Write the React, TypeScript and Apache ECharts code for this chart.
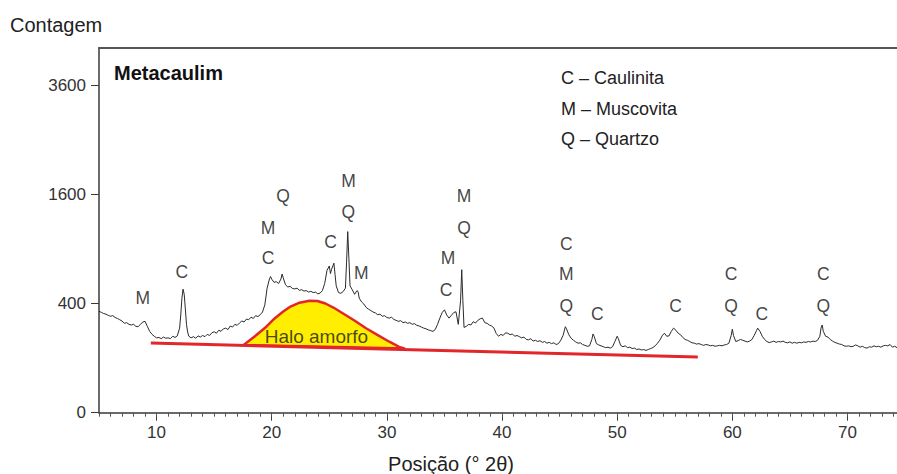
import React, { useEffect, useRef } from "react";
import * as echarts from "echarts";

// ---- Data ----
const xTickLabels = [10, 20, 30, 40, 50, 60, 70];
const yTickLabels = [0, 400, 1600, 3600];
const xMin = 5;
const xMax = 74.3;
const yMaxCount = 4462; // top frame of the plot (sqrt scale)

// XRD pattern: [angle 2θ, counts]
const xrdPattern: [number, number][] = [
  [5.0, 345], [5.2, 338], [5.4, 330], [5.6, 326], [5.8, 318], [6.0, 312], [6.2, 316], [6.4, 304],
  [6.6, 298], [6.8, 290], [7.0, 282], [7.2, 268], [7.4, 272], [7.6, 262], [7.8, 258], [8.0, 262],
  [8.2, 250], [8.4, 248], [8.6, 262], [8.8, 276], [9.0, 280], [9.2, 250], [9.4, 222], [9.6, 206],
  [9.8, 196], [10.0, 188], [10.2, 190], [10.4, 184], [10.6, 192], [10.8, 186], [11.0, 188], [11.2, 184],
  [11.4, 196], [11.6, 190], [11.8, 198], [12.0, 240], [12.1, 320], [12.2, 440], [12.3, 512], [12.4, 470],
  [12.5, 360], [12.6, 260], [12.7, 218], [12.8, 196], [13.0, 188], [13.2, 194], [13.4, 186], [13.6, 198],
  [13.8, 192], [14.0, 200], [14.2, 194], [14.4, 206], [14.6, 200], [14.8, 214], [15.0, 220], [15.2, 212],
  [15.4, 228], [15.6, 222], [15.8, 236], [16.0, 240], [16.2, 232], [16.4, 252], [16.6, 246], [16.8, 262],
  [17.0, 256], [17.2, 270], [17.4, 282], [17.6, 276], [17.8, 294], [18.0, 290], [18.2, 306], [18.4, 298],
  [18.6, 316], [18.8, 310], [19.0, 322], [19.2, 340], [19.4, 390], [19.6, 520], [19.8, 600], [19.9, 622],
  [20.0, 598], [20.2, 570], [20.4, 576], [20.6, 560], [20.8, 600], [20.9, 645], [21.0, 610], [21.2, 548],
  [21.4, 530], [21.6, 536], [21.8, 518], [22.0, 514], [22.2, 520], [22.4, 502], [22.6, 508], [22.8, 496],
  [23.0, 500], [23.2, 488], [23.4, 494], [23.6, 484], [23.8, 488], [24.0, 474], [24.2, 480], [24.4, 500],
  [24.6, 560], [24.8, 680], [25.0, 722], [25.1, 650], [25.2, 690], [25.4, 750], [25.5, 640], [25.6, 540],
  [25.8, 484], [26.0, 478], [26.2, 492], [26.4, 520], [26.5, 760], [26.6, 1100], [26.7, 800], [26.8, 540],
  [27.0, 506], [27.2, 470], [27.4, 500], [27.5, 492], [27.6, 440], [27.8, 412], [28.0, 396], [28.2, 372],
  [28.4, 360], [28.6, 350], [28.8, 340], [29.0, 334], [29.2, 322], [29.4, 326], [29.6, 312], [29.8, 316],
  [30.0, 304], [30.2, 300], [30.4, 306], [30.6, 292], [30.8, 286], [31.0, 280], [31.2, 284], [31.4, 272],
  [31.6, 276], [31.8, 268], [32.0, 272], [32.2, 262], [32.4, 266], [32.6, 256], [32.8, 252], [33.0, 246],
  [33.2, 240], [33.4, 236], [33.6, 230], [33.8, 226], [34.0, 222], [34.2, 232], [34.4, 262], [34.6, 300],
  [34.8, 336], [35.0, 355], [35.2, 320], [35.4, 300], [35.6, 318], [35.8, 336], [36.0, 342], [36.2, 262],
  [36.4, 420], [36.5, 686], [36.6, 420], [36.7, 244], [36.9, 250], [37.1, 262], [37.3, 258], [37.5, 278],
  [37.7, 270], [37.9, 286], [38.1, 296], [38.3, 300], [38.5, 272], [38.7, 268], [38.9, 258], [39.1, 252],
  [39.3, 240], [39.5, 210], [39.7, 196], [39.9, 206], [40.1, 200], [40.3, 214], [40.5, 212], [40.7, 204],
  [40.9, 208], [41.1, 196], [41.3, 200], [41.5, 194], [41.7, 188], [41.9, 192], [42.1, 180], [42.3, 178],
  [42.5, 184], [42.7, 172], [42.9, 176], [43.1, 170], [43.3, 174], [43.5, 166], [43.7, 170], [43.9, 162],
  [44.1, 166], [44.3, 160], [44.5, 164], [44.7, 156], [44.9, 160], [45.1, 176], [45.3, 200], [45.5, 248],
  [45.6, 236], [45.8, 204], [46.0, 186], [46.2, 176], [46.4, 168], [46.6, 162], [46.8, 164], [47.0, 156],
  [47.2, 152], [47.4, 148], [47.6, 150], [47.8, 180], [47.9, 208], [48.0, 196], [48.2, 160], [48.4, 154],
  [48.6, 150], [48.8, 146], [49.0, 142], [49.2, 144], [49.4, 140], [49.6, 146], [49.8, 170], [50.0, 196],
  [50.1, 184], [50.3, 152], [50.5, 146], [50.7, 150], [50.9, 142], [51.1, 144], [51.3, 138], [51.5, 140],
  [51.7, 134], [51.9, 136], [52.1, 132], [52.3, 134], [52.5, 130], [52.7, 134], [52.9, 138], [53.1, 142],
  [53.3, 150], [53.5, 162], [53.7, 176], [53.9, 198], [54.1, 212], [54.3, 196], [54.5, 198], [54.7, 222],
  [54.9, 240], [55.1, 228], [55.3, 212], [55.5, 204], [55.7, 190], [55.9, 180], [56.1, 176], [56.3, 170],
  [56.5, 164], [56.7, 162], [56.9, 158], [57.1, 160], [57.3, 156], [57.5, 152], [57.7, 156], [57.9, 154],
  [58.1, 150], [58.3, 152], [58.5, 148], [58.7, 150], [58.9, 152], [59.1, 150], [59.3, 154], [59.5, 156],
  [59.7, 162], [59.9, 200], [60.0, 234], [60.1, 200], [60.3, 170], [60.5, 174], [60.7, 180], [60.9, 176],
  [61.1, 172], [61.3, 168], [61.5, 172], [61.7, 180], [61.9, 200], [62.1, 226], [62.2, 240], [62.4, 222],
  [62.6, 196], [62.8, 180], [63.0, 170], [63.2, 165], [63.4, 168], [63.6, 172], [63.8, 166], [64.0, 170],
  [64.2, 168], [64.4, 172], [64.6, 166], [64.8, 164], [65.0, 168], [65.2, 162], [65.4, 166], [65.6, 162],
  [65.8, 166], [66.0, 164], [66.2, 168], [66.4, 166], [66.6, 170], [66.8, 168], [67.0, 172], [67.2, 170],
  [67.4, 176], [67.6, 196], [67.7, 240], [67.8, 258], [67.9, 222], [68.1, 196], [68.3, 192], [68.5, 180],
  [68.7, 172], [68.9, 166], [69.1, 162], [69.3, 158], [69.5, 156], [69.7, 150], [69.9, 148], [70.1, 150],
  [70.3, 146], [70.5, 148], [70.7, 154], [70.9, 150], [71.1, 144], [71.3, 148], [71.5, 142], [71.7, 140],
  [71.9, 146], [72.1, 144], [72.3, 150], [72.5, 146], [72.7, 148], [72.9, 144], [73.1, 150], [73.3, 152],
  [73.5, 150], [73.7, 156], [73.9, 144], [74.1, 148], [74.3, 142],
];

// Amorphous halo outline
const haloAngles = [17.56, 18.51, 19.53, 20.25, 20.97, 21.63, 22.41, 23.28, 23.97, 24.66, 25.36, 26.16, 27.18, 28.19, 29.17, 30.21, 31.07, 31.51];
const haloCounts = [154, 195, 248, 298, 342, 378, 406, 421, 419, 400, 371, 332, 285, 239, 203, 169, 145, 138];

// Red background line
const baselineAngles = [9.5, 57.0];
const baselineCounts = [163, 104];

// Phase labels above peaks
const phaseLetters = ["M", "C", "Q", "M", "C", "C", "M", "Q", "M", "M", "C", "M", "Q", "C", "M", "Q", "C", "C", "C", "Q", "C", "C", "Q"];
const phaseAngles = [8.81, 12.19, 20.98, 19.68, 19.68, 25.1, 26.66, 26.66, 27.78, 35.32, 35.15, 36.71, 36.71, 45.58, 45.58, 45.58, 48.27, 55.07, 59.88, 59.88, 62.56, 67.89, 67.89];
const phaseCounts = [441, 664, 1575, 1144, 803, 977, 1801, 1351, 655, 803, 505, 1575, 1144, 960, 650, 385, 330, 382, 650, 385, 330, 650, 385];

const haloLabel = "Halo amorfo";
const haloLabelAngle = 23.88;
const haloLabelCount = 196;

const legendLines = ["C – Caulinita", "M – Muscovita", "Q – Quartzo"];
const sampleTitle = "Metacaulim";
const yTitle = "Contagem";
const xTitle = "Posição (° 2θ)";

const FONT = "'Liberation Sans', Arial, sans-serif";
const sq = (v: number) => Math.sqrt(v);

export default function App() {
  const ref = useRef<HTMLDivElement>(null);

  useEffect(() => {
    if (!ref.current) return;
    const chart = echarts.init(ref.current, undefined, { renderer: "svg" });

    const minorTicks: number[] = [];
    for (let v = Math.ceil(xMin); v <= Math.floor(xMax); v++) minorTicks.push(v);

    const haloPts = haloAngles.map((a, i) => [a, sq(haloCounts[i])]);

    const option: any = {
      animation: false,
      backgroundColor: "#ffffff",
      textStyle: { fontFamily: FONT },
      grid: { left: 99, top: 48, width: 800, height: 364.7, containLabel: false },
      xAxis: [
        {
          type: "value",
          min: xMin,
          max: xMax,
          position: "bottom",
          axisLine: { show: true, lineStyle: { color: "#3a3a3a", width: 1.5 } },
          axisTick: { show: true, customValues: xTickLabels, length: 8, lineStyle: { color: "#3a3a3a" } },
          axisLabel: { show: true, customValues: xTickLabels, fontSize: 17, color: "#333", margin: 11, fontFamily: FONT },
          splitLine: { show: false },
        },
        {
          type: "value",
          min: xMin,
          max: xMax,
          position: "bottom",
          axisLine: { show: false },
          axisTick: { show: true, customValues: minorTicks, length: 4, lineStyle: { color: "#555" } },
          axisLabel: { show: false },
          splitLine: { show: false },
        },
        {
          type: "value",
          min: xMin,
          max: xMax,
          position: "top",
          axisLine: { show: true, lineStyle: { color: "#555", width: 2 } },
          axisTick: { show: false },
          axisLabel: { show: false },
          splitLine: { show: false },
        },
      ],
      yAxis: {
        type: "value",
        min: 0,
        max: sq(yMaxCount),
        axisLine: { show: true, lineStyle: { color: "#3a3a3a", width: 1.5 } },
        axisTick: { show: true, customValues: yTickLabels.map(sq), length: 8, lineStyle: { color: "#3a3a3a" } },
        axisLabel: {
          show: true,
          customValues: yTickLabels.map(sq),
          formatter: (v: number) => String(Math.round(v * v)),
          fontSize: 17,
          color: "#333",
          margin: 13,
          fontFamily: FONT,
        },
        splitLine: { show: false },
      },
      series: [
        {
          type: "custom",
          name: "Halo amorfo",
          coordinateSystem: "cartesian2d",
          data: haloPts,
          z: 3,
          renderItem: (params: any, api: any) => {
            if (params.dataIndex !== 0) return null;
            const points = haloPts.map((p) => api.coord(p));
            return {
              type: "polygon",
              shape: { points },
              style: { fill: "#FFEE00", stroke: "#E3262A", lineWidth: 2.5, lineJoin: "round" },
            };
          },
        },
        {
          type: "line",
          name: "Linha de base",
          data: baselineAngles.map((a, i) => [a, sq(baselineCounts[i])]),
          symbol: "none",
          lineStyle: { color: "#E3262A", width: 3 },
          z: 4,
        },
        {
          type: "line",
          name: "Metacaulim",
          data: xrdPattern.map(([a, c]) => [a, sq(c)]),
          symbol: "none",
          lineStyle: { color: "#2b2b2b", width: 1 },
          z: 5,
        },
        {
          type: "scatter",
          name: "Fases",
          data: phaseAngles.map((a, i) => ({ value: [a, sq(phaseCounts[i])], name: phaseLetters[i] })),
          symbolSize: 1,
          itemStyle: { color: "rgba(0,0,0,0)" },
          label: {
            show: true,
            position: "inside",
            formatter: (p: any) => p.name,
            fontSize: 17.5,
            color: "#111",
            fontFamily: FONT,
          },
          z: 6,
        },
        {
          type: "scatter",
          name: "Halo label",
          data: [{ value: [haloLabelAngle, sq(haloLabelCount)], name: haloLabel }],
          symbolSize: 1,
          itemStyle: { color: "rgba(0,0,0,0)" },
          label: {
            show: true,
            position: "inside",
            formatter: (p: any) => p.name,
            fontSize: 19,
            color: "#1a1a1a",
            fontFamily: FONT,
          },
          z: 7,
        },
      ],
      graphic: [
        {
          type: "text",
          left: 10,
          top: 15,
          style: { text: yTitle, fontSize: 20, fill: "#222", fontFamily: FONT },
        },
        {
          type: "text",
          x: 451,
          y: 464,
          style: { text: xTitle, fontSize: 20, fill: "#222", fontFamily: FONT, align: "center", verticalAlign: "middle" },
        },
        {
          type: "text",
          x: 114,
          y: 73,
          style: { text: sampleTitle, fontSize: 20, fontWeight: "bold", fill: "#111", fontFamily: FONT, verticalAlign: "middle" },
        },
        ...legendLines.map((t, i) => ({
          type: "text",
          x: 561,
          y: 78 + i * 30.5,
          style: { text: t, fontSize: 18, fill: "#222", fontFamily: FONT, verticalAlign: "middle" },
        })),
      ],
    };

    chart.setOption(option);
    return () => chart.dispose();
  }, []);

  return (
    <div
      ref={ref}
      style={{ position: "fixed", left: 0, top: 0, width: 897, height: 474, background: "#fff" }}
    />
  );
}
